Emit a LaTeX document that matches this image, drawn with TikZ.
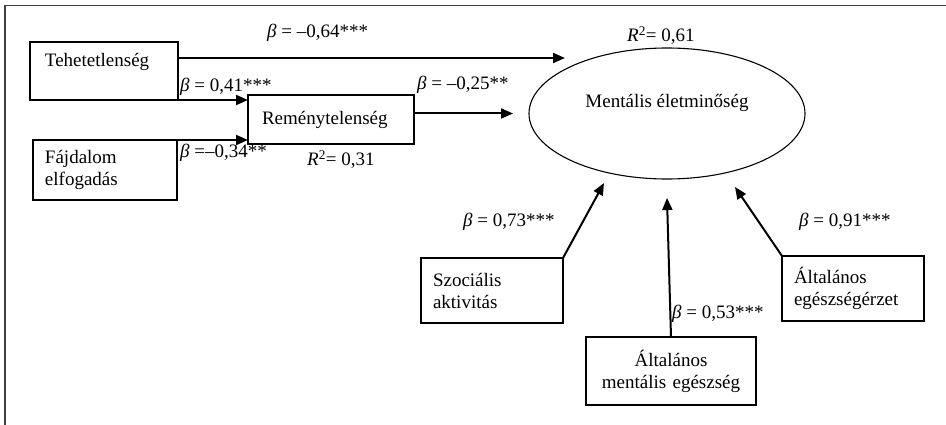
\documentclass[tikz,border=0pt]{standalone}
\usepackage{fontspec}
\setmainfont{Liberation Serif}
\usetikzlibrary{arrows.meta,shapes.geometric}

\newcommand{\bet}{\textit{β}}
\newcommand{\rsq}{\textit{R}\textsuperscript{2}}

\begin{document}
\begin{tikzpicture}[x=1pt, y=-1pt,
  every node/.style={font=\fontsize{19}{22}\selectfont},
  box/.style={draw, line width=1.3pt, anchor=north west, align=left, inner ysep=0pt, outer sep=0pt},
  coef/.style={anchor=base west, inner sep=0pt},
  arr/.style={line width=2pt, -{Triangle[length=12pt,width=10pt]}}]

% Fix the page size
\useasboundingbox (0,0) rectangle (946,425);
% Frame (only top and left edge show)
\draw[line width=1.8pt, black!75] (5,425) -- (5,5.5) -- (946,5.5);

% Boxes on the left
\node[box, minimum width=148pt, minimum height=58pt, inner xsep=15pt, text width=118pt, text height=13.5pt, text depth=21.5pt] (teh) at (30,42) {Tehetetlenség};
\node[box, minimum width=144pt, minimum height=60pt, inner xsep=12pt, text width=120pt] (faj) at (33,140) {Fájdalom\\elfogadás};
\node[box, minimum width=166pt, minimum height=49pt, inner xsep=14pt, text width=138pt] (rem) at (248,95) {Reménytelenség};

% Outcome
\node[draw, ellipse, line width=1.1pt, minimum width=276pt, minimum height=131pt, text height=13.5pt, text depth=24.5pt] (elet) at (667,113.5) {Mentális életminőség};

% Boxes at the bottom
\node[box, minimum width=142pt, minimum height=65pt, inner xsep=12pt, text width=118pt] (soc) at (421,258) {Szociális\\aktivitás};
\node[box, minimum width=170pt, minimum height=68pt, inner xsep=12pt, text width=146pt, align=center] (ment) at (586,337) {Általános\\mentális egészség};
\node[box, minimum width=142pt, minimum height=65pt, inner xsep=12pt, text width=118pt] (egesz) at (782,256) {Általános\\egészségérzet};

% Coefficients
\node[coef] (b1) at (267,38) {\bet{} = –0,64***};
\node[coef] (b2) at (180,92) {\bet{} = 0,41***};
\node[coef] (b3) at (180,158) {\bet{} =–0,34**};
\node[coef] (b4) at (417,90) {\bet{} = –0,25**};
\node[coef] (r1) at (307,166) {\rsq= 0,31};
\node[coef] (r2) at (627,42) {\rsq= 0,61};
\node[coef] (b5) at (463,226) {\bet{} = 0,73***};
\node[coef] (b6) at (672,318) {\bet{} = 0,53***};
\node[coef] (b7) at (799,226) {\bet{} = 0,91***};

% Arrow tips
\coordinate (tteh) at (565,58);
\coordinate (trem) at (513,113.5);
\coordinate (tsoc) at (604,183);
\coordinate (tment) at (667,198);
\coordinate (tegesz) at (735,187);

% Paths
\draw[arr] ([yshift=-16pt]teh.north east) -- (tteh);
\draw[arr] (teh.south east) -- (teh.south east -| rem.west);
\draw[arr] (faj.north east) -- (faj.north east -| rem.west);
\draw[arr] ([yshift=6pt]rem.east) -- (trem);
\draw[arr] (soc.north east) -- (tsoc);
\draw[arr] (ment.north) -- (tment);
\draw[arr] (egesz.north west) -- (tegesz);
\end{tikzpicture}
\end{document}
